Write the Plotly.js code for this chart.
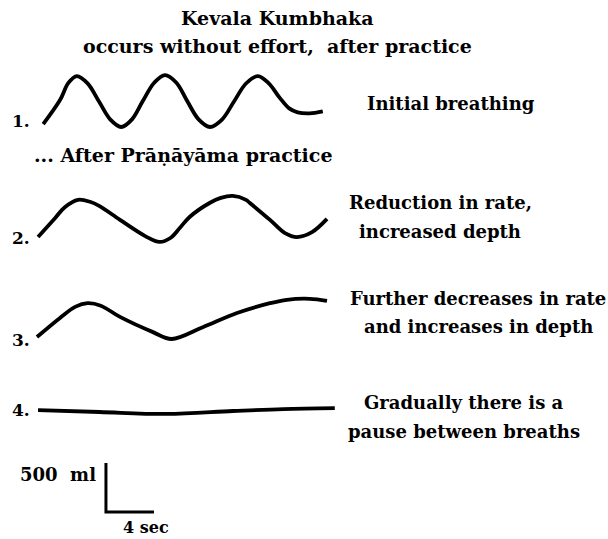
<!DOCTYPE html>
<html>
<head>
<meta charset="utf-8">
<script src="https://cdn.plot.ly/plotly-3.0.1.min.js"></script>
<style>html,body{margin:0;padding:0;background:#fff;}#chart{width:608px;height:539px;}</style>
</head>
<body>
<div id="chart"></div>
<script>
// Time (s) and volume above each trace's lowest point (ml)
const time1 = [1.1, 2.5, 3.2, 3.9, 4.8, 5.75, 6.7, 7.6, 8.5, 9.4, 10.35, 11.25, 12.2, 13.1, 14.05, 15.0, 16.0, 17.0, 18.0, 19.0, 19.9, 20.8, 21.6, 22.3, 23.3, 24.4];
const vol1  = [30, 275, 450, 520, 445, 260, 75, 0, 78, 265, 452, 530, 452, 265, 78, 0, 76, 260, 444, 520, 445, 300, 190, 150, 140, 160];

const time2 = [0.67, 2.1, 2.9, 4.0, 5.0, 5.8, 7.5, 9.6, 10.8, 11.7, 12.5, 13.3, 15.0, 15.9, 16.9, 18.0, 18.3, 20.0, 21.25, 22.25, 23.5, 24.75];
const vol2  = [50, 245, 355, 430, 410, 365, 225, 60, 0, 40, 145, 255, 400, 450, 470, 430, 400, 225, 90, 50, 100, 235];

const time3 = [0.58, 2.5, 3.8, 4.8, 5.9, 7.5, 10.25, 11.8, 14.4, 17.25, 20.0, 21.4, 23.3, 24.75];
const vol3  = [20, 215, 330, 365, 340, 225, 70, 0, 120, 265, 365, 400, 410, 390];

const time4 = [0.67, 5.8, 11.4, 16.9, 21.1, 25.4];
const vol4  = [40, 20, 0, 30, 50, 60];

// Vertical placement of each trace (ml on the shared axis)
const rowBase = [4204, 3031, 2041, 1276];

// Scale bar
const scaleMl = 500;
const scaleSec = 4;
const scaleAt = [6.33, 276];

// Texts
const titleLines = ["Kevala Kumbhaka", "occurs without effort,  after practice"];
const rowNumbers = ["1.", "2.", "3.", "4."];
const rowNotes = [
  ["Initial breathing"],
  ["Reduction in rate,", "increased depth"],
  ["Further decreases in rate", "and increases in depth"],
  ["Gradually there is a", "pause between breaths"]
];
const midNote = "... After Prāṇāyāma practice";
const scaleLabels = ["500  ml", "4 sec"];

const times = [time1, time2, time3, time4];
const vols = [vol1, vol2, vol3, vol4];

const traces = times.map((t, i) => ({
  x: t,
  y: vols[i].map(v => v + rowBase[i]),
  type: 'scatter',
  mode: 'lines',
  line: {color: '#000', width: 3.8, shape: 'spline', smoothing: 1},
  hoverinfo: 'skip'
}));

traces.push({
  x: [scaleAt[0], scaleAt[0], scaleAt[0] + scaleSec],
  y: [scaleAt[1] + scaleMl, scaleAt[1], scaleAt[1]],
  type: 'scatter',
  mode: 'lines',
  line: {color: '#000', width: 3},
  hoverinfo: 'skip'
});

const W = 608, H = 539;
const px = v => v / W;
const py = v => 1 - v / H;
const FONT = {family: 'DejaVu Serif', size: 18, color: '#000', weight: 'bold'};

const ann = [];
function add(text, x, y, anchor, size) {
  ann.push({
    text: text, xref: 'paper', yref: 'paper', x: px(x), y: py(y),
    xanchor: anchor, yanchor: 'middle', showarrow: false,
    font: Object.assign({}, FONT, size ? {size: size} : {})
  });
}

add(titleLines[0], 277, 18, 'center', 19);
add(titleLines[1], 277, 46, 'center', 19);

const numY = [121, 238, 340, 410];
rowNumbers.forEach((n, i) => add(n, 10, numY[i], 'left', 17));

const noteCenters = [451, 440, 478, 464];
const noteY = [[103], [202, 231], [298, 326], [402, 431]];
rowNotes.forEach((lines, i) => lines.forEach((l, j) => add(l, noteCenters[i], noteY[i][j], 'center', 18)));

add(midNote, 32, 155, 'left', 19);
add(scaleLabels[0], 18, 474, 'left', 18);
add(scaleLabels[1], 121, 527, 'left', 16);

const layout = {
  width: W, height: H,
  margin: {l: 0, r: 0, t: 0, b: 0},
  paper_bgcolor: '#fff', plot_bgcolor: '#fff',
  showlegend: false,
  xaxis: {range: [-2.5, 48.1667], visible: false, fixedrange: true},
  yaxis: {range: [0, 5500], visible: false, fixedrange: true},
  annotations: ann
};

Plotly.newPlot('chart', traces, layout, {staticPlot: true, displayModeBar: false});
</script>
</body>
</html>
